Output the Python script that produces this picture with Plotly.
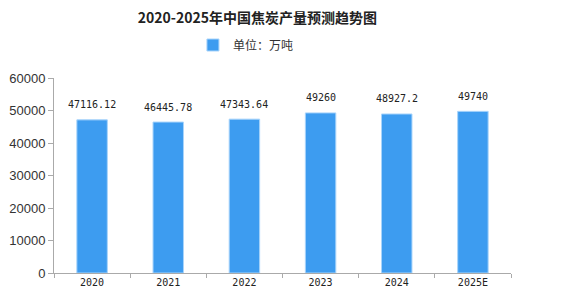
import plotly.graph_objects as go

years = ["2020", "2021", "2022", "2023", "2024", "2025E"]
values = [47116.12, 46445.78, 47343.64, 49260, 48927.2, 49740]
labels = ["47116.12", "46445.78", "47343.64", "49260", "48927.2", "49740"]
series_name = "单位：万吨"
title = "2020-2025年中国焦炭产量预测趋势图"

color = "#3d9cf0"
fig = go.Figure()
fig.add_trace(go.Bar(x=years, y=values, name=series_name, marker=dict(color=color, line=dict(color="#a8d4fb", width=1)),
                     showlegend=True))

# category index positions of the labels (numeric-looking strings would be read as indices)
for i, (y, t) in enumerate(zip(values, labels)):
    fig.add_annotation(x=i, y=y, text=t, showarrow=False, yshift=15,
                       font=dict(family="DejaVu Sans Mono", size=10, color="#222"))

fig.update_layout(
    width=561, height=304,
    margin=dict(l=54, r=50, t=78, b=31, autoexpand=False),
    paper_bgcolor="white", plot_bgcolor="white",
    bargap=0.6,
    title=dict(text="<b>" + title + "</b>", x=0.445, xref="paper", xanchor="center", y=1 - 18/304, yanchor="middle",
               font=dict(family="Noto Sans CJK SC", size=14, color="#222")),
    legend=dict(orientation="h", x=0.42, xref="paper", xanchor="center", y=1 - 45/304, yref="container", yanchor="middle",
                itemwidth=30, font=dict(family="Noto Sans CJK SC", size=12, color="#333")),
    xaxis=dict(type="category", range=[-0.5, len(years) - 0.5], showline=True, linecolor="#aaa", linewidth=1,
               ticks="outside", tickson="boundaries", ticklen=4,
               tickcolor="#aaa", tickangle=0, tickfont=dict(family="DejaVu Sans Mono", size=10, color="#222"), showgrid=False),
    yaxis=dict(range=[0, 60000], dtick=10000, showline=True, linecolor="#aaa", linewidth=1, ticks="outside", ticklen=5,
               tickcolor="#aaa", showgrid=False, zeroline=False, tickformat="d",
               tickfont=dict(family="Liberation Sans", size=13, color="#333")),
)
fig.write_html("out.html")
